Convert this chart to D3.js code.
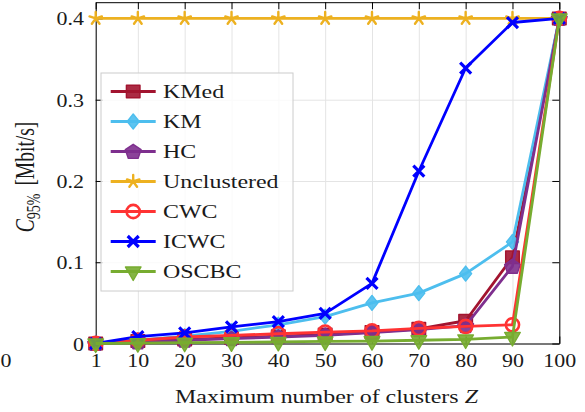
<!DOCTYPE html>
<html>
<head>
<meta charset="utf-8">
<script src="https://cdn.jsdelivr.net/npm/d3@7"></script>
<style>
  html, body { margin: 0; padding: 0; background: #ffffff; }
  svg { display: block; }
  text { font-family: "Liberation Serif", "Times New Roman", serif; fill: #1a1a1a; }
</style>
</head>
<body>
<svg id="chart" width="585" height="412"></svg>
<script>
// ---- data ---------------------------------------------------------------
const clusters    = [1, 10, 20, 30, 40, 50, 60, 70, 80, 90, 100];
const kmed        = [0, 0.003, 0.005, 0.007, 0.009, 0.011, 0.014, 0.018, 0.028, 0.106, 0.4];
const km          = [0, 0.004, 0.009, 0.015, 0.023, 0.033, 0.050, 0.062, 0.086, 0.125, 0.4];
const hc          = [0, 0.002, 0.004, 0.006, 0.008, 0.010, 0.0135, 0.017, 0.022, 0.095, 0.4];
const unclustered = [0.4, 0.4, 0.4, 0.4, 0.4, 0.4, 0.4, 0.4, 0.4, 0.4, 0.4];
const cwc         = [0, 0.004, 0.008, 0.010, 0.012, 0.014, 0.0155, 0.0185, 0.021, 0.023, 0.4];
const icwc        = [0, 0.0085, 0.013, 0.0205, 0.027, 0.037, 0.074, 0.212, 0.339, 0.395, 0.4];
const oscbc       = [0, 0.0005, 0.001, 0.0015, 0.002, 0.0025, 0.003, 0.004, 0.005, 0.008, 0.4];

const seriesNames = ["KMed", "KM", "HC", "Unclustered", "CWC", "ICWC", "OSCBC"];
const seriesData  = [kmed, km, hc, unclustered, cwc, icwc, oscbc];
const xTicks = [1, 10, 20, 30, 40, 50, 60, 70, 80, 90, 100];
const yTicks = [0, 0.1, 0.2, 0.3, 0.4];

// ---- styling ------------------------------------------------------------
const styles = {
  KMed:        { color: "#A2142F", marker: "square" },
  KM:          { color: "#4DBEEE", marker: "diamond" },
  HC:          { color: "#7E2F8E", marker: "pentagon" },
  Unclustered: { color: "#EDB120", marker: "asterisk" },
  CWC:         { color: "#FF3333", marker: "circle" },
  ICWC:        { color: "#0000FF", marker: "cross" },
  OSCBC:       { color: "#77AC30", marker: "triangleDown" }
};

const FS = 18;          // base font size
const SX_TICK = 1.22;   // horizontal stretch of tick labels
const SX_LAB = 1.33;    // horizontal stretch of axis title / legend text

const svg = d3.select("#chart");
const plot = { left: 95.7, right: 559.3, top: 2.2, bottom: 343.5 };

const x = d3.scaleLinear().domain([1, 100]).range([plot.left, plot.right]);
const y = d3.scaleLinear().domain([0, 0.42]).range([plot.bottom, plot.top]);

// ---- grid ---------------------------------------------------------------
const grid = svg.append("g").attr("class", "grid");
grid.append("g")
  .attr("transform", `translate(0,${plot.bottom})`)
  .call(d3.axisBottom(x).tickValues(xTicks).tickSize(-(plot.bottom - plot.top)).tickFormat(""))
  .call(g => g.select(".domain").remove());
grid.append("g")
  .attr("transform", `translate(${plot.left},0)`)
  .call(d3.axisLeft(y).tickValues(yTicks).tickSize(-(plot.right - plot.left)).tickFormat(""))
  .call(g => g.select(".domain").remove());
grid.selectAll("line").attr("stroke", "#e4e4e4").attr("stroke-width", 1);

// ---- frame and ticks ----------------------------------------------------
const TICK = 7;
const fmtY = d => d === 0 ? "0" : d3.format(".1f")(d);

const axB = svg.append("g").attr("transform", `translate(0,${plot.bottom})`)
  .call(d3.axisBottom(x).tickValues(xTicks).tickSizeInner(-TICK).tickSizeOuter(0).tickPadding(0));
axB.selectAll("text")
  .attr("y", 0).attr("dy", 0)
  .attr("transform", `translate(0,23.5) scale(${SX_TICK},1)`)
  .attr("font-size", FS);

const axL = svg.append("g").attr("transform", `translate(${plot.left},0)`)
  .call(d3.axisLeft(y).tickValues(yTicks).tickFormat(fmtY).tickSizeInner(-TICK).tickSizeOuter(0).tickPadding(0));
axL.selectAll("text")
  .attr("x", 0).attr("dy", 0)
  .attr("transform", `translate(-11.7,6.5) scale(${SX_TICK},1)`)
  .attr("font-size", FS);

svg.append("g").attr("transform", `translate(0,${plot.top})`)
  .call(d3.axisTop(x).tickValues(xTicks).tickSizeInner(-TICK).tickSizeOuter(0).tickFormat(""));
svg.append("g").attr("transform", `translate(${plot.right},0)`)
  .call(d3.axisRight(y).tickValues(yTicks).tickSizeInner(-TICK).tickSizeOuter(0).tickFormat(""));

svg.selectAll(".domain, .tick line").filter(function () {
  return !this.closest(".grid");
}).attr("stroke", "#000").attr("stroke-width", 1);
svg.selectAll(".tick text").attr("font-family", "Liberation Serif").attr("fill", "#1a1a1a");

// ---- axis titles --------------------------------------------------------
const xTitle = svg.append("text")
  .attr("transform", `translate(${(plot.left + plot.right) / 2 - 1},402.5) scale(${SX_LAB},1)`)
  .attr("text-anchor", "middle")
  .attr("font-size", FS);
xTitle.append("tspan").text("Maximum number of clusters ");
xTitle.append("tspan").attr("font-style", "italic").text("Z");

const yTitle = svg.append("text")
  .attr("transform", `translate(34,177) scale(1.4,1) rotate(-90)`)
  .attr("text-anchor", "middle")
  .attr("font-size", 19.5);
yTitle.append("tspan").attr("font-style", "italic").text("C");
yTitle.append("tspan").attr("font-size", 14).attr("dy", 4.5).text("95%");
yTitle.append("tspan").attr("dy", -4.5).attr("dx", 8).text("[Mbit/s]");

// last digit of the neighbouring panel's x axis
svg.append("text")
  .attr("transform", `translate(0.5,367) scale(${SX_TICK},1)`)
  .attr("text-anchor", "start").attr("font-size", FS).text("0");

// ---- markers ------------------------------------------------------------
function markerPath(kind) {
  const p = d3.path();
  switch (kind) {
    case "square":
      p.rect(-6.8, -6.3, 13.6, 12.6); break;
    case "diamond":
      p.moveTo(0, -7.5); p.lineTo(6, 0); p.lineTo(0, 7.5); p.lineTo(-6, 0); p.closePath(); break;
    case "pentagon": {
      const R = 7.8;
      for (let i = 0; i < 5; i++) {
        const a = -Math.PI / 2 + i * 2 * Math.PI / 5;
        const px = R * 1.06 * Math.cos(a), py = R * Math.sin(a) + 0.6;
        if (i === 0) p.moveTo(px, py); else p.lineTo(px, py);
      }
      p.closePath(); break;
    }
    case "asterisk":
      for (let i = 0; i < 5; i++) {
        const a = -Math.PI / 2 + i * 2 * Math.PI / 5;
        p.moveTo(0, 0); p.lineTo(6.5 * Math.cos(a), 6.5 * Math.sin(a));
      }
      break;
    case "circle":
      p.arc(0, 0, 6.6, 0, 2 * Math.PI); break;
    case "cross":
      p.moveTo(-5.5, -5.5); p.lineTo(5.5, 5.5); p.moveTo(-5.5, 5.5); p.lineTo(5.5, -5.5); break;
    case "triangleDown":
      p.moveTo(-7.8, -4.5); p.lineTo(7.8, -4.5); p.lineTo(0, 9); p.closePath(); break;
  }
  return p.toString();
}

function styleMarker(sel, st) {
  const k = st.marker;
  if (k === "circle") {
    sel.attr("fill", "none").attr("stroke", st.color).attr("stroke-width", 2.6);
  } else if (k === "asterisk") {
    sel.attr("fill", "none").attr("stroke", st.color).attr("stroke-width", 2.4).attr("stroke-linecap", "round");
  } else if (k === "cross") {
    sel.attr("fill", "none").attr("stroke", st.color).attr("stroke-width", 3.2);
  } else {
    sel.attr("fill", st.color).attr("fill-opacity", 0.9).attr("stroke", st.color).attr("stroke-width", 1.4)
       .attr("stroke-linejoin", "round");
  }
}

// ---- series -------------------------------------------------------------
const line = d3.line().x(d => x(d[0])).y(d => y(d[1]));
const seriesLayer = svg.append("g");

seriesNames.forEach((name, i) => {
  const st = styles[name];
  const pts = clusters.map((c, j) => [c, seriesData[i][j]]);
  const g = seriesLayer.append("g");
  g.append("path")
    .attr("d", line(pts))
    .attr("fill", "none")
    .attr("stroke", st.color)
    .attr("stroke-width", 2.8)
    .attr("stroke-linejoin", "round");
  g.selectAll("path.mk").data(pts).join("path")
    .attr("class", "mk")
    .attr("transform", d => `translate(${x(d[0])},${y(d[1])})`)
    .attr("d", markerPath(st.marker))
    .call(styleMarker, st);
});

// ---- legend -------------------------------------------------------------
const legend = svg.append("g");
legend.append("rect")
  .attr("x", 101).attr("y", 73).attr("width", 192).attr("height", 218)
  .attr("fill", "#ffffff").attr("fill-opacity", 0.8)
  .attr("stroke", "#cccccc").attr("stroke-width", 1);

seriesNames.forEach((name, i) => {
  const st = styles[name];
  const cy = 91.5 + 30 * i;
  const row = legend.append("g").attr("transform", `translate(0,${cy})`);
  row.append("line")
    .attr("x1", 110.7).attr("x2", 155.7).attr("y1", 0).attr("y2", 0)
    .attr("stroke", st.color).attr("stroke-width", 2.8);
  row.append("path")
    .attr("transform", "translate(133.2,0)")
    .attr("d", markerPath(st.marker))
    .call(styleMarker, st);
  row.append("text")
    .attr("transform", `translate(163,6.3) scale(${SX_LAB},1)`)
    .attr("font-size", FS)
    .text(name);
});
</script>
</body>
</html>
